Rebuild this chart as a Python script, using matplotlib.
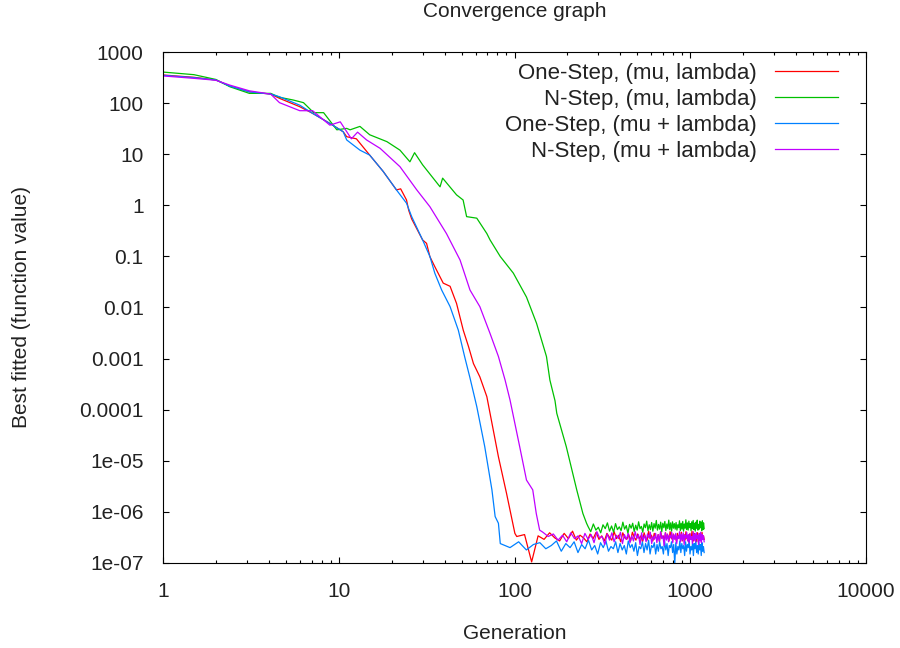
import numpy as np
import matplotlib
matplotlib.use("Agg")
from matplotlib import pyplot as plt
from matplotlib.ticker import FixedLocator, FixedFormatter, NullLocator, LogLocator, NullFormatter

plt.rcParams['font.family'] = ['Liberation Sans', 'DejaVu Sans']

# decline phase (generation, best value)
red_gen = [1, 1.5, 2, 2.4, 3.1, 4.1, 4.6, 6, 7.1, 8.9, 10.6, 11.1, 12.6, 15, 17.9, 21.3, 22.5, 24.3, 25, 26,
           30, 31.6, 33, 35.2, 39.3, 43, 46.8, 51.1, 54.8, 58.4, 63.5, 69.6, 72.6, 81, 90.1, 100.5]
red_val = [355, 320, 283, 215, 166, 150, 124, 85, 63, 40, 27.5, 22, 20, 9.6, 4.6, 2.0, 2.1, 1.27, 0.8, 0.54,
           0.21, 0.18, 0.099, 0.063, 0.030, 0.026, 0.012, 0.0036, 0.0017, 8e-4, 4.4e-4, 1.8e-4, 8.5e-5, 1.2e-5,
           2.3e-6, 3.8e-7]

green_gen = [1, 1.5, 2, 2.4, 3.1, 4.1, 4.6, 5.5, 6.3, 7.2, 8.2, 8.9, 9.75, 11.1, 11.6, 13.2, 15, 18.8, 22.3,
             25.4, 27, 30, 37.7, 39, 46.8, 51, 53.4, 61, 69.6, 72.6, 82.9, 98.5, 117, 133.5, 152, 159, 170,
             174, 197, 226, 245, 257]
green_val = [405, 360, 290, 209, 155, 155, 130, 115, 102, 65, 65, 45, 30, 32, 30, 35, 24, 17.6, 12,
             7.1, 10.7, 6.2, 2.3, 3.4, 1.6, 1.27, 0.6, 0.56, 0.28, 0.21, 0.1, 0.047, 0.016, 0.0049, 0.0011,
             3.8e-4, 1.5e-4, 8.5e-5, 1.9e-5, 2.7e-6, 9.3e-7, 6e-7]

blue_gen = [1, 1.5, 2, 2.4, 3.1, 4.1, 4.6, 6, 7.1, 8.9, 10.6, 11.1, 13.2, 15, 17.9, 21.3, 24.3, 26, 30, 33,
            35.2, 38.5, 43, 47.9, 52, 55.8, 61, 67.7, 74.4, 77.6, 81]
blue_val = [350, 315, 283, 215, 166, 150, 133, 91, 63, 40, 27.5, 19, 12, 9.6, 4.6, 2.0, 1.1, 0.6, 0.21, 0.1,
            0.047, 0.022, 0.0104, 0.0036, 0.0011, 4.2e-4, 1.15e-4, 1.9e-5, 2.7e-6, 8.1e-7, 6e-7]

purple_gen = [1, 1.5, 2, 2.4, 3.1, 4.1, 4.6, 6, 7.1, 8.9, 10.2, 11.8, 12.8, 14.4, 17.2, 22.3, 27.8, 33, 41,
              49, 55.8, 63.5, 72.6, 81, 88.4, 94.3, 107, 117, 127, 133, 139]
purple_val = [340, 305, 280, 225, 174, 150, 102, 71, 71, 37, 43, 20, 27, 19, 13, 5.7, 2.0, 0.94, 0.28,
              0.085, 0.022, 0.0104, 0.0031, 0.0011, 3.8e-4, 1.55e-4, 1.9e-5, 4.2e-6, 2.7e-6, 9.3e-7, 4.4e-7]

# noisy plateau after convergence, in units of 1e-7
red_tail = [3.3, 3.6, 1.05, 3.4, 2.9, 3.9, 3.1, 2.7, 3.8, 3.0, 4.2, 2.8, 3.5, 3.1, 2.6, 3.7, 3.0, 4.0, 2.9, 3.4,
            2.7, 3.8, 3.2, 2.8, 4.1, 3.0, 3.5, 2.6, 3.9, 3.1, 2.9, 3.6, 2.7, 4.0, 3.2, 2.8, 3.7, 3.0, 3.4, 2.6,
            3.9, 3.1, 2.8, 4.2, 3.0, 3.5, 2.7, 3.8, 3.2, 2.9, 3.6, 2.6, 4.0, 3.1, 3.4, 2.8, 3.9, 3.0, 3.5, 2.7,
            4.1, 3.2, 2.9, 3.7, 3.0, 3.4, 2.6, 3.8, 3.1, 3.5, 2.9, 4.0, 2.7, 3.3, 3.6, 2.8, 4.1, 3.0, 3.4, 2.6,
            3.7, 3.1, 2.9, 4.2, 3.2, 2.7, 3.8, 3.0, 3.5, 2.6, 3.9, 3.1, 2.8, 3.6, 3.3, 2.7, 4.0, 3.0, 3.4, 2.9]
green_tail = [5.2, 4.1, 5.8, 4.4, 5.0, 3.9, 5.6, 4.7, 6.1, 4.2, 5.3, 4.0, 5.9, 4.5, 5.1, 4.3, 6.3, 4.6, 5.4, 3.8,
              5.7, 4.8, 6.0, 4.1, 5.5, 4.4, 6.4, 4.7, 5.2, 4.0, 5.8, 4.9, 6.6, 4.3, 5.6, 4.5, 6.2, 4.2, 5.9, 4.8,
              6.8, 4.4, 5.7, 4.6, 6.3, 4.1, 6.0, 4.9, 6.5, 4.3, 5.8, 4.7, 6.9, 4.5, 6.1, 4.2, 6.4, 4.8, 5.9, 4.6,
              6.2, 4.4, 5.6, 4.9, 6.7, 4.3, 6.0, 4.6, 6.5, 4.2, 5.8, 4.8, 7.0, 4.5, 6.1, 4.4, 6.6, 4.9, 5.9, 4.3,
              6.4, 4.7, 6.8, 4.5, 6.0, 4.2, 6.3, 4.8, 6.9, 4.4, 5.7, 4.6, 6.6, 4.9, 6.2, 4.3, 6.7, 4.5, 6.1, 4.7]
blue_tail = [2.4, 2.0, 2.6, 1.8, 2.3, 2.5, 1.9, 2.2, 2.7, 1.7, 2.4, 2.0, 2.6, 1.6, 2.3, 1.9, 2.8, 1.8, 2.2, 1.5,
             2.5, 2.0, 2.7, 1.7, 2.1, 1.9, 2.6, 1.6, 2.4, 1.8, 2.2, 1.5, 2.7, 2.0, 2.3, 1.7, 2.5, 1.4, 2.1, 1.9,
             2.6, 1.6, 2.4, 1.8, 2.8, 1.5, 2.2, 2.0, 2.5, 1.5, 2.3, 1.7, 2.6, 1.9, 2.1, 1.5, 2.7, 1.8, 2.4, 1.4,
             2.2, 2.0, 2.6, 1.6, 2.3, 0.95, 2.5, 1.5, 2.1, 1.8, 2.7, 1.6, 2.4, 1.9, 2.2, 1.4, 2.6, 1.7, 2.3, 2.0,
             2.8, 1.5, 2.1, 1.8, 2.5, 1.4, 2.4, 1.9, 2.7, 1.6, 2.2, 1.5, 2.6, 1.8, 2.3, 1.4, 2.5, 1.7, 2.1, 1.6]
purple_tail = [4.0, 3.3, 3.7, 2.8, 3.5, 2.6, 3.9, 3.0, 3.4, 2.4, 3.8, 2.9, 3.6, 2.5, 4.1, 3.1, 3.3, 2.3, 3.7, 2.8,
               3.9, 2.6, 3.5, 3.0, 4.0, 2.4, 3.6, 2.9, 3.8, 2.5, 3.4, 2.7, 4.1, 3.0, 3.6, 2.3, 3.9, 2.8, 3.5, 2.6,
               3.7, 3.1, 4.0, 2.4, 3.3, 2.9, 3.8, 2.5, 3.6, 2.7, 4.1, 3.0, 3.4, 2.2, 3.9, 2.8, 3.7, 2.6, 3.5, 3.1,
               4.0, 2.5, 3.6, 2.9, 3.8, 2.4, 3.4, 3.0, 4.1, 2.6, 3.7, 2.8, 3.9, 2.3, 3.5, 3.1, 4.0, 2.7, 3.6, 2.5,
               3.8, 2.9, 3.3, 2.4, 4.1, 2.8, 3.7, 2.6, 3.9, 3.0, 3.5, 2.3, 3.8, 2.7, 4.0, 2.5, 3.6, 2.9, 3.4, 2.6]
tail_start = {'red': 103, 'green': 262, 'blue': 83, 'purple': 145}
last_gen = 1200

labels = ["One-Step, (mu, lambda)", "N-Step, (mu, lambda)", "One-Step, (mu + lambda)", "N-Step, (mu + lambda)"]
colors = ["#ff0000", "#00c000", "#0080ff", "#c000ff"]

ytick_vals = [1e3, 1e2, 1e1, 1, 1e-1, 1e-2, 1e-3, 1e-4, 1e-5, 1e-6, 1e-7]
ytick_labels = ["1000", "100", "10", "1", "0.1", "0.01", "0.001", "0.0001", "1e-05", "1e-06", "1e-07"]
xtick_vals = [1, 10, 100, 1000, 10000]
xtick_labels = ["1", "10", "100", "1000", "10000"]

series = [
    (red_gen, red_val, red_tail, 'red'),
    (green_gen, green_val, green_tail, 'green'),
    (blue_gen, blue_val, blue_tail, 'blue'),
    (purple_gen, purple_val, purple_tail, 'purple'),
]

FS = 15

fig = plt.figure(figsize=(9, 6.48), dpi=100)
ax = fig.add_axes([163/900, 85/648, 703/900, 511/648])

for (g, v, tail, key), lab, col in zip(series, labels, colors):
    tg = np.linspace(tail_start[key], last_gen, len(tail))
    xs = np.concatenate([g, tg])
    ys = np.concatenate([v, np.array(tail) * 1e-7])
    ax.plot(xs, ys, color=col, lw=0.9, label=lab)

ax.set_xscale('log')
ax.set_yscale('log')
ax.set_xlim(1, 10000)
ax.set_ylim(1e-7, 1000)

ax.yaxis.set_major_locator(FixedLocator(ytick_vals))
ax.yaxis.set_major_formatter(FixedFormatter(ytick_labels))
ax.yaxis.set_minor_locator(NullLocator())
ax.xaxis.set_major_locator(FixedLocator(xtick_vals))
ax.xaxis.set_major_formatter(FixedFormatter(xtick_labels))
ax.xaxis.set_minor_locator(LogLocator(base=10, subs=np.arange(2, 10)))
ax.xaxis.set_minor_formatter(NullFormatter())

ax.tick_params(which='both', direction='in', top=True, right=True, labelsize=FS, width=0.8,
               labelcolor='#222222')
ax.tick_params(which='major', length=4.5, pad=14)
ax.tick_params(which='minor', length=2.5)
for s in ax.spines.values():
    s.set_linewidth(0.8)

ax.set_title("Convergence graph", fontsize=FS, pad=25, color='#222222')
ax.set_xlabel("Generation", fontsize=FS, color='#222222')
ax.set_ylabel("Best fitted (function value)", fontsize=FS, color='#222222')
ax.xaxis.set_label_coords(0.5, -0.119)
ax.yaxis.set_label_coords(-0.188, 0.5)

leg = ax.legend(loc='upper right', bbox_to_anchor=(0.960, 0.978), frameon=False, markerfirst=False,
                handlelength=2.84, handletextpad=0.81, labelspacing=0.215, borderaxespad=0, borderpad=0,
                fontsize=16)
for t in leg.get_texts():
    t.set_color('#222222')

fig.savefig("out.png", dpi=100)
